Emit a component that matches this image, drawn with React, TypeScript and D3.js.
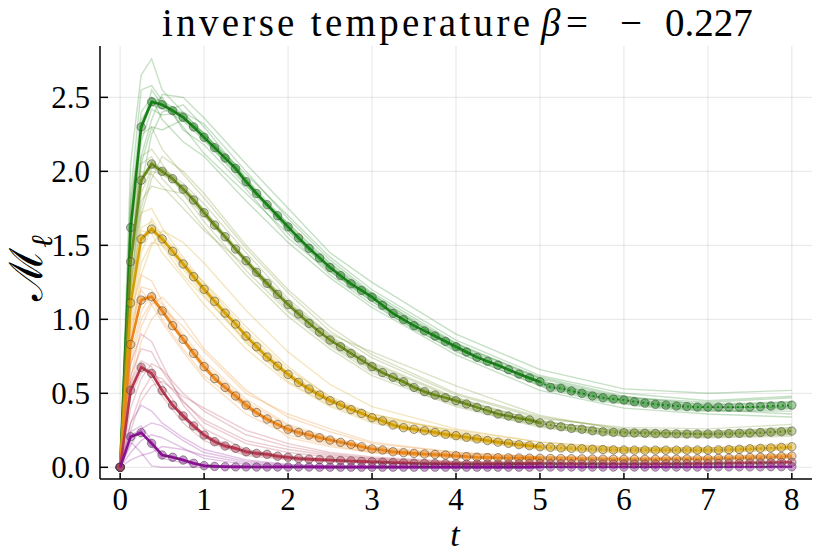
import * as d3 from "d3";

// time grid of the mean curves (dt = 0.125) and of the faint sample runs
const T_MEAN = d3.range(0, 8.0001, 0.125);
const T_SAMPLE = [0, 0.125, 0.25, 0.375, 0.5, 0.75, 1, 1.5, 2, 2.5, 3, 4, 5, 6, 7, 8];
const T_SPLIT = 5;

const X_TICKS = [0, 1, 2, 3, 4, 5, 6, 7, 8];
const Y_TICKS = [0, 0.5, 1, 1.5, 2, 2.5];
const Y_TICK_LABELS = ["0.0", "0.5", "1.0", "1.5", "2.0", "2.5"];

const meanGreen = [
  0, 1.62, 2.3, 2.47, 2.45, 2.41, 2.365, 2.3, 2.23, 2.16, 2.09, 2.02, 1.93, 1.85, 1.775, 1.7, 1.625,
  1.55, 1.48, 1.415, 1.35, 1.295, 1.24, 1.195, 1.15, 1.095, 1.04, 0.998, 0.957, 0.922, 0.887, 0.851,
  0.815, 0.779, 0.743, 0.716, 0.69, 0.66, 0.63, 0.604, 0.578,
  0.54, 0.534, 0.516, 0.5, 0.482, 0.47, 0.461,
  0.455, 0.443, 0.434, 0.426, 0.42, 0.414, 0.41, 0.407, 0.407, 0.407, 0.407, 0.407, 0.408, 0.411,
  0.414, 0.417, 0.42,
];
const meanOlive = [
  0, 1.39, 1.94, 2.05, 2.0, 1.95, 1.88, 1.806, 1.72, 1.637, 1.558, 1.475, 1.396, 1.318, 1.243, 1.169,
  1.1, 1.036, 0.973, 0.914, 0.86, 0.815, 0.77, 0.725, 0.68, 0.64, 0.608, 0.578, 0.54, 0.511, 0.488,
  0.47, 0.45, 0.428, 0.405, 0.383, 0.36, 0.347, 0.331, 0.32, 0.3,
  0.286, 0.274, 0.263, 0.257, 0.247, 0.24, 0.236,
  0.234, 0.232, 0.23, 0.228, 0.227, 0.226, 0.225, 0.225, 0.225, 0.226, 0.228, 0.23, 0.232, 0.235,
  0.238, 0.241, 0.245,
];
const meanYellow = [
  0, 1.11, 1.543, 1.61, 1.543, 1.46, 1.374, 1.288, 1.203, 1.122, 1.042, 0.968, 0.887, 0.815, 0.745,
  0.684, 0.628, 0.574, 0.529, 0.488, 0.45, 0.42, 0.39, 0.365, 0.335, 0.313, 0.286, 0.268, 0.257,
  0.247, 0.236, 0.223, 0.214, 0.203, 0.192, 0.181, 0.17, 0.162, 0.153, 0.146, 0.139,
  0.135, 0.131, 0.128, 0.125, 0.122, 0.12, 0.118,
  0.117, 0.116, 0.116, 0.116, 0.116, 0.116, 0.117, 0.117, 0.117, 0.118, 0.12, 0.122, 0.125, 0.128,
  0.131, 0.135, 0.139,
];
const meanOrange = [
  0, 0.83, 1.13, 1.153, 1.057, 0.957, 0.865, 0.77, 0.68, 0.6, 0.54, 0.482, 0.42, 0.37, 0.326, 0.29,
  0.257, 0.236, 0.218, 0.2, 0.184, 0.169, 0.155, 0.139, 0.124, 0.117, 0.105, 0.099, 0.094, 0.09,
  0.087, 0.083, 0.078, 0.072, 0.068, 0.066, 0.065, 0.064, 0.063, 0.062, 0.061,
  0.06, 0.059, 0.058, 0.057, 0.056, 0.055, 0.055,
  0.054, 0.054, 0.054, 0.054, 0.055, 0.055, 0.056, 0.057, 0.058, 0.06, 0.062, 0.064, 0.066, 0.068,
  0.07, 0.073, 0.076,
];
const meanRed = [
  0, 0.52, 0.676, 0.635, 0.518, 0.42, 0.347, 0.28, 0.218, 0.173, 0.144, 0.128, 0.105, 0.094, 0.088,
  0.075, 0.068, 0.06, 0.055, 0.052, 0.049, 0.046, 0.043, 0.04, 0.038, 0.035, 0.032, 0.03, 0.027,
  0.026, 0.025, 0.024, 0.023, 0.022, 0.022, 0.022, 0.022, 0.023, 0.024, 0.025, 0.026,
  0.024, 0.023, 0.023, 0.022, 0.022, 0.022, 0.022,
  0.022, 0.022, 0.022, 0.022, 0.023, 0.023, 0.024, 0.024, 0.025, 0.026, 0.027, 0.028, 0.029, 0.03,
  0.031, 0.033, 0.034,
];
const meanPurple = [
  0, 0.207, 0.234, 0.162, 0.083, 0.068, 0.049, 0.027, 0.011, 0.006, 0.004, 0.003, 0.003, 0.002,
  0.002, 0.002, 0.002, 0.002, 0.002, 0.001, 0.001, 0.001, 0.001, 0.001, 0.001, 0.001, 0.001, 0.001,
  0.001, 0.001, 0.001, 0.001, 0.001, 0.001, 0.001, 0.001, 0.001, 0.001, 0.001, 0.001, 0.002,
  0.002, 0.002, 0.002, 0.002, 0.002, 0.002, 0.002,
  0.002, 0.002, 0.002, 0.002, 0.002, 0.002, 0.002, 0.002, 0.002, 0.003, 0.003, 0.003, 0.003, 0.003,
  0.004, 0.004, 0.004,
];

// faint individual runs, sampled at T_SAMPLE
const samplesGreen = [
  [0, 2.05, 2.65, 2.76, 2.55, 2.4, 2.25, 1.98, 1.7, 1.42, 1.2, 0.86, 0.62, 0.5, 0.45, 0.48],
  [0, 1.4, 2.1, 2.35, 2.52, 2.5, 2.36, 2.05, 1.75, 1.45, 1.25, 0.9, 0.66, 0.53, 0.5, 0.52],
  [0, 1.75, 2.4, 2.5, 2.35, 2.2, 2.1, 1.8, 1.52, 1.28, 1.08, 0.76, 0.52, 0.4, 0.36, 0.34],
  [0, 1.2, 1.9, 2.25, 2.4, 2.45, 2.3, 1.95, 1.6, 1.33, 1.12, 0.8, 0.57, 0.45, 0.4, 0.41],
  [0, 1.85, 2.55, 2.58, 2.48, 2.3, 2.12, 1.85, 1.58, 1.3, 1.1, 0.78, 0.55, 0.43, 0.38, 0.38],
  [0, 1.55, 2.2, 2.42, 2.38, 2.4, 2.32, 2.0, 1.68, 1.4, 1.18, 0.84, 0.6, 0.47, 0.44, 0.47],
  [0, 1.6, 2.35, 2.45, 2.5, 2.28, 2.18, 1.88, 1.55, 1.32, 1.14, 0.82, 0.56, 0.44, 0.39, 0.36],
  [0, 1.35, 2.05, 2.3, 2.28, 2.35, 2.26, 1.92, 1.62, 1.36, 1.16, 0.83, 0.61, 0.48, 0.42, 0.44],
  [0, 1.7, 2.25, 2.55, 2.45, 2.38, 2.22, 1.9, 1.65, 1.38, 1.17, 0.8, 0.58, 0.46, 0.41, 0.4],
];
const samplesOlive = [
  [0, 1.8, 2.25, 2.3, 2.15, 1.98, 1.82, 1.48, 1.18, 0.92, 0.74, 0.49, 0.33, 0.27, 0.26, 0.29],
  [0, 1.1, 1.7, 1.95, 2.1, 2.0, 1.85, 1.5, 1.2, 0.95, 0.76, 0.5, 0.34, 0.26, 0.24, 0.27],
  [0, 1.5, 2.05, 2.1, 1.95, 1.8, 1.62, 1.3, 1.02, 0.8, 0.62, 0.41, 0.27, 0.21, 0.2, 0.21],
  [0, 1.25, 1.8, 1.9, 1.88, 1.85, 1.7, 1.4, 1.12, 0.88, 0.7, 0.46, 0.31, 0.24, 0.23, 0.25],
  [0, 1.6, 2.1, 2.15, 2.05, 1.85, 1.66, 1.33, 1.05, 0.82, 0.64, 0.42, 0.28, 0.22, 0.21, 0.22],
  [0, 1.35, 1.85, 2.02, 2.02, 1.92, 1.78, 1.45, 1.14, 0.89, 0.71, 0.47, 0.31, 0.24, 0.23, 0.26],
  [0, 1.45, 2.0, 1.98, 1.9, 1.75, 1.6, 1.36, 1.1, 0.9, 0.78, 0.55, 0.35, 0.25, 0.22, 0.23],
  [0, 1.2, 1.75, 2.0, 1.98, 1.9, 1.74, 1.38, 1.06, 0.83, 0.66, 0.44, 0.29, 0.23, 0.22, 0.24],
];
const samplesYellow = [
  [0, 1.4, 1.72, 1.75, 1.62, 1.42, 1.24, 0.92, 0.66, 0.48, 0.36, 0.23, 0.15, 0.13, 0.13, 0.16],
  [0, 0.85, 1.3, 1.5, 1.6, 1.52, 1.38, 1.06, 0.78, 0.56, 0.41, 0.26, 0.17, 0.13, 0.13, 0.15],
  [0, 1.2, 1.6, 1.58, 1.45, 1.28, 1.1, 0.8, 0.57, 0.41, 0.3, 0.19, 0.12, 0.1, 0.1, 0.12],
  [0, 1.0, 1.45, 1.62, 1.58, 1.4, 1.22, 0.9, 0.64, 0.46, 0.34, 0.22, 0.14, 0.12, 0.12, 0.14],
  [0, 1.25, 1.62, 1.66, 1.5, 1.3, 1.15, 0.86, 0.62, 0.46, 0.36, 0.24, 0.15, 0.12, 0.11, 0.13],
  [0, 0.95, 1.38, 1.52, 1.5, 1.38, 1.25, 0.95, 0.68, 0.47, 0.33, 0.2, 0.13, 0.11, 0.11, 0.13],
  [0, 1.15, 1.55, 1.6, 1.52, 1.34, 1.16, 0.84, 0.6, 0.44, 0.34, 0.25, 0.17, 0.13, 0.12, 0.14],
  [0, 1.05, 1.5, 1.68, 1.56, 1.36, 1.18, 0.85, 0.58, 0.42, 0.31, 0.2, 0.13, 0.11, 0.11, 0.13],
];
const samplesOrange = [
  [0, 1.05, 1.3, 1.26, 1.12, 0.9, 0.72, 0.46, 0.29, 0.2, 0.14, 0.09, 0.07, 0.06, 0.06, 0.08],
  [0, 0.6, 0.95, 1.1, 1.15, 1.0, 0.8, 0.52, 0.34, 0.24, 0.16, 0.1, 0.07, 0.06, 0.07, 0.09],
  [0, 0.9, 1.2, 1.1, 0.98, 0.78, 0.6, 0.36, 0.22, 0.15, 0.1, 0.065, 0.05, 0.045, 0.05, 0.065],
  [0, 0.75, 1.05, 1.18, 1.1, 0.88, 0.7, 0.44, 0.28, 0.19, 0.13, 0.08, 0.06, 0.055, 0.06, 0.075],
  [0, 0.85, 1.15, 1.15, 1.0, 0.8, 0.62, 0.4, 0.25, 0.18, 0.12, 0.075, 0.06, 0.05, 0.055, 0.07],
  [0, 0.55, 0.85, 1.0, 1.08, 0.95, 0.78, 0.5, 0.36, 0.26, 0.17, 0.1, 0.07, 0.06, 0.065, 0.085],
  [0, 0.95, 1.22, 1.2, 1.05, 0.85, 0.66, 0.4, 0.24, 0.16, 0.11, 0.07, 0.055, 0.05, 0.055, 0.07],
  [0, 0.7, 1.0, 1.12, 1.08, 0.86, 0.68, 0.43, 0.2, 0.14, 0.1, 0.07, 0.055, 0.05, 0.055, 0.072],
];
const samplesRed = [
  [0, 0.62, 0.8, 0.78, 0.65, 0.45, 0.3, 0.16, 0.1, 0.07, 0.05, 0.03, 0.028, 0.025, 0.028, 0.038],
  [0, 0.4, 0.6, 0.7, 0.66, 0.5, 0.38, 0.22, 0.14, 0.09, 0.06, 0.035, 0.03, 0.027, 0.03, 0.04],
  [0, 0.55, 0.7, 0.6, 0.48, 0.3, 0.18, 0.08, 0.05, 0.04, 0.03, 0.02, 0.02, 0.018, 0.02, 0.03],
  [0, 0.3, 0.5, 0.62, 0.6, 0.44, 0.32, 0.18, 0.12, 0.08, 0.06, 0.035, 0.03, 0.025, 0.028, 0.036],
  [0, 0.7, 0.9, 0.85, 0.7, 0.42, 0.26, 0.12, 0.07, 0.05, 0.04, 0.025, 0.024, 0.02, 0.024, 0.034],
  [0, 0.48, 0.64, 0.66, 0.56, 0.36, 0.22, 0.1, 0.06, 0.045, 0.035, 0.02, 0.022, 0.02, 0.024, 0.032],
  [0, 0.25, 0.45, 0.55, 0.58, 0.48, 0.4, 0.25, 0.16, 0.1, 0.07, 0.04, 0.032, 0.028, 0.03, 0.04],
  [0, 0.58, 0.72, 0.68, 0.52, 0.33, 0.2, 0.09, 0.06, 0.045, 0.035, 0.022, 0.024, 0.02, 0.024, 0.033],
];
const samplesPurple = [
  [0, 0.3, 0.42, 0.38, 0.3, 0.2, 0.12, 0.05, 0.02, 0.01, 0.006, 0.004, 0.003, 0.003, 0.003, 0.005],
  [0, 0.15, 0.26, 0.3, 0.28, 0.18, 0.1, 0.04, 0.015, 0.008, 0.005, 0.003, 0.003, 0.002, 0.003, 0.004],
  [0, 0.22, 0.25, 0.14, 0.06, 0.03, 0.01, 0.003, 0.002, 0.002, 0.002, 0.002, 0.002, 0.002, 0.002, 0.003],
  [0, 0.17, 0.1, 0.01, 0.0, 0.0, 0.0, 0.0, 0.0, 0.0, 0.0, 0.0, 0.0, 0.001, 0.001, 0.002],
  [0, 0.1, 0.18, 0.22, 0.2, 0.13, 0.06, 0.02, 0.008, 0.004, 0.003, 0.002, 0.002, 0.002, 0.002, 0.003],
  [0, 0.24, 0.28, 0.18, 0.09, 0.04, 0.015, 0.005, 0.003, 0.002, 0.002, 0.002, 0.002, 0.002, 0.002, 0.003],
  [0, 0.05, 0.08, 0.1, 0.14, 0.12, 0.08, 0.03, 0.01, 0.005, 0.003, 0.002, 0.002, 0.002, 0.002, 0.003],
];

// half width of the shaded band around each mean
const bandHalfWidth = [0.03, 0.025, 0.02, 0.018, 0.015, 0.01];
const colors = ["#168216", "#6b8a1c", "#d39f05", "#ea861c", "#b4364f", "#8a0f93"];

const series = [
  { mean: meanGreen, samples: samplesGreen },
  { mean: meanOlive, samples: samplesOlive },
  { mean: meanYellow, samples: samplesYellow },
  { mean: meanOrange, samples: samplesOrange },
  { mean: meanRed, samples: samplesRed },
  { mean: meanPurple, samples: samplesPurple },
].map((s, i) => ({ ...s, color: colors[i], err: bandHalfWidth[i] }));

const FONT = "'Liberation Serif', 'DejaVu Serif', serif";

export default function App() {
  const width = 830;
  const height = 554;
  const marginTop = 46;
  const marginRight = 18;
  const marginBottom = 75;
  const marginLeft = 100;

  const x = d3.scaleLinear([-0.24, 8.24], [marginLeft, width - marginRight]);
  const y = d3.scaleLinear([-0.079, 2.847], [height - marginBottom, marginTop]);

  const sampleLine = d3
    .line<number>()
    .x((_, i) => x(T_SAMPLE[i]))
    .y((v) => y(v));
  const meanLine = d3
    .line<[number, number]>()
    .x((d) => x(d[0]))
    .y((d) => y(d[1]));

  return (
    <svg
      width={width}
      height={height}
      style={{ position: "absolute", left: 0, top: 0, background: "white", fontFamily: FONT }}
    >
      {/* grid */}
      <g stroke="#000" strokeOpacity={0.1} strokeWidth={1}>
        {X_TICKS.map((t) => (
          <line key={t} x1={x(t)} x2={x(t)} y1={marginTop} y2={height - marginBottom} />
        ))}
        {Y_TICKS.map((v) => (
          <line key={v} x1={marginLeft} x2={width - marginRight} y1={y(v)} y2={y(v)} />
        ))}
      </g>

      {/* individual runs */}
      {series.map((s, i) => (
        <g key={i} fill="none" stroke={s.color} strokeOpacity={0.25} strokeWidth={1.4}>
          {s.samples.map((run, j) => (
            <path key={j} d={sampleLine(run) ?? ""} />
          ))}
        </g>
      ))}

      {/* bands, means and markers */}
      {series.map((s, i) => {
        const pts: [number, number][] = s.mean.map((v, k) => [T_MEAN[k], v]);
        const solid = pts.filter((p) => p[0] <= T_SPLIT);
        const dotted = pts.filter((p) => p[0] >= T_SPLIT);
        const band = d3
          .area<[number, number]>()
          .x((d) => x(d[0]))
          .y0((d) => y(d[1] - s.err))
          .y1((d) => y(d[1] + s.err));
        return (
          <g key={i}>
            <path d={band(pts) ?? ""} fill={s.color} fillOpacity={0.25} />
            <path d={meanLine(solid) ?? ""} fill="none" stroke={s.color} strokeWidth={2.6} />
            <path
              d={meanLine(dotted) ?? ""}
              fill="none"
              stroke={s.color}
              strokeWidth={1.8}
              strokeDasharray="2 3"
            />
            {pts.map((p, k) => (
              <circle
                key={k}
                cx={x(p[0])}
                cy={y(p[1])}
                r={4.2}
                fill={s.color}
                fillOpacity={0.4}
                stroke="#3a3a3a"
                strokeOpacity={0.5}
                strokeWidth={1}
              />
            ))}
          </g>
        );
      })}

      {/* axes */}
      <g stroke="#000" strokeWidth={1.5}>
        <line x1={marginLeft} x2={marginLeft} y1={marginTop} y2={height - marginBottom} />
        <line
          x1={marginLeft}
          x2={width - marginRight}
          y1={height - marginBottom}
          y2={height - marginBottom}
        />
        {X_TICKS.map((t) => (
          <line key={t} x1={x(t)} x2={x(t)} y1={height - marginBottom} y2={height - marginBottom - 6} />
        ))}
        {Y_TICKS.map((v) => (
          <line key={v} x1={marginLeft} x2={marginLeft + 8} y1={y(v)} y2={y(v)} />
        ))}
      </g>
      <g fontSize={31} fill="#000">
        {X_TICKS.map((t) => (
          <text key={t} x={x(t)} y={510} textAnchor="middle">
            {t}
          </text>
        ))}
        {Y_TICKS.map((v, i) => (
          <text key={v} x={90} y={y(v)} dy="0.33em" textAnchor="end">
            {Y_TICK_LABELS[i]}
          </text>
        ))}
      </g>

      {/* labels */}
      <text x={455} y={546} fontSize={34} fontStyle="italic" textAnchor="middle">
        t
      </text>
      <text transform="translate(42,268) rotate(-90)" fontSize={46} textAnchor="middle">
        ℳ
        <tspan fontSize={30} dy={10} fontStyle="italic">
          ℓ
        </tspan>
      </text>

      {/* title */}
      <g fontSize={39}>
        <text x={162} y={36} letterSpacing={3.3}>
          inverse temperature
        </text>
        <text x={541} y={36} fontStyle="italic">
          β
        </text>
        <text x={566} y={36}>
          =
        </text>
        <text x={620} y={36}>
          −
        </text>
        <text x={665} y={36}>
          0.227
        </text>
      </g>
    </svg>
  );
}
